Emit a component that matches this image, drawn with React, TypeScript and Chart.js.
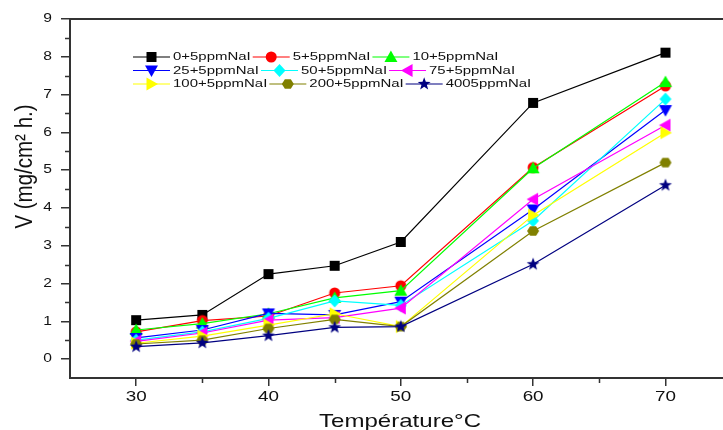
import React, { useEffect, useRef } from 'react';
import { Chart, registerables } from 'chart.js';

Chart.register(...registerables);

const temperatures = [30, 35, 40, 45, 50, 60, 70];
const seriesNames = [
  '0+5ppmNaI', '5+5ppmNaI', '10+5ppmNaI',
  '25+5ppmNaI', '50+5ppmNaI', '75+5ppmNaI',
  '100+5ppmNaI', '200+5ppmNaI', '4005ppmNaI',
];
const s0 = [1.03, 1.17, 2.25, 2.47, 3.1, 6.78, 8.11];
const s5 = [0.72, 1.02, 1.14, 1.75, 1.94, 5.07, 7.23];
const s10 = [0.77, 0.94, 1.2, 1.62, 1.81, 5.05, 7.33];
const s25 = [0.56, 0.77, 1.21, 1.17, 1.52, 3.96, 6.59];
const s50 = [0.5, 0.72, 1.08, 1.54, 1.42, 3.66, 6.88];
const s75 = [0.47, 0.69, 1.03, 1.1, 1.35, 4.23, 6.19];
const s100 = [0.42, 0.61, 0.9, 1.2, 0.86, 3.81, 5.99];
const s200 = [0.4, 0.5, 0.81, 1.05, 0.86, 3.39, 5.2];
const s4005 = [0.33, 0.43, 0.62, 0.84, 0.86, 2.51, 4.6];
const seriesValues = [s0, s5, s10, s25, s50, s75, s100, s200, s4005];

const colors = ['#000000', '#ff0000', '#00ff00', '#0000ff', '#00ffff', '#ff00ff', '#ffff00', '#808000', '#000080'];
const markers = ['square', 'circle', 'triUp', 'triDown', 'diamond', 'triLeft', 'triRight', 'hexagon', 'star'];

const xTickValues = [30, 40, 50, 60, 70];
const xMinorValues = [35, 45, 55, 65];
const yTickValues = [0, 1, 2, 3, 4, 5, 6, 7, 8, 9];
const yMinorValues = [0.5, 1.5, 2.5, 3.5, 4.5, 5.5, 6.5, 7.5, 8.5];
const xTitle = 'Température°C';
const yTitle = 'V (mg/cm² h.)';

const AXIS_COLOR = '#333333';
const TEXT_COLOR = '#111111';
const FONT = "'Liberation Sans', Arial, sans-serif";
const SX = 1.3;

function drawMarker(ctx: CanvasRenderingContext2D, shape: string, cx: number, cy: number, color: string) {
  ctx.save();
  ctx.fillStyle = color;
  ctx.beginPath();
  const poly = (pts: number[][]) => {
    ctx.moveTo(cx + pts[0][0], cy + pts[0][1]);
    for (let i = 1; i < pts.length; i++) ctx.lineTo(cx + pts[i][0], cy + pts[i][1]);
    ctx.closePath();
  };
  switch (shape) {
    case 'square':
      ctx.rect(cx - 5, cy - 5, 10, 10);
      break;
    case 'circle':
      ctx.arc(cx, cy, 5.5, 0, Math.PI * 2);
      break;
    case 'triUp':
      poly([[0, -6.5], [6.5, 5], [-6.5, 5]]);
      break;
    case 'triDown':
      poly([[0, 6.5], [6.5, -5], [-6.5, -5]]);
      break;
    case 'triLeft':
      poly([[-6.5, 0], [5, -6.5], [5, 6.5]]);
      break;
    case 'triRight':
      poly([[6.5, 0], [-5, -6.5], [-5, 6.5]]);
      break;
    case 'diamond':
      poly([[0, -6.5], [6, 0], [0, 6.5], [-6, 0]]);
      break;
    case 'hexagon': {
      const pts: number[][] = [];
      for (let k = 0; k < 6; k++) {
        const a = (k * Math.PI) / 3;
        pts.push([6 * Math.cos(a), 5.5 * Math.sin(a)]);
      }
      poly(pts);
      break;
    }
    case 'star': {
      const pts: number[][] = [];
      for (let k = 0; k < 10; k++) {
        const r = k % 2 === 0 ? 6.8 : 2.8;
        const a = -Math.PI / 2 + (k * Math.PI) / 5;
        pts.push([r * Math.cos(a), r * Math.sin(a)]);
      }
      poly(pts);
      break;
    }
  }
  ctx.fill();
  ctx.restore();
}

function makeMarkerCanvas(shape: string, color: string) {
  const c = document.createElement('canvas');
  c.width = 16;
  c.height = 16;
  const ctx = c.getContext('2d')!;
  drawMarker(ctx, shape, 8, 8, color);
  return c;
}

function stretchedText(
  ctx: CanvasRenderingContext2D, text: string, x: number, y: number,
  size: number, align: CanvasTextAlign, baseline: CanvasTextBaseline, sx: number,
) {
  ctx.save();
  ctx.font = `${size}px ${FONT}`;
  ctx.fillStyle = TEXT_COLOR;
  ctx.textAlign = align;
  ctx.textBaseline = baseline;
  ctx.translate(x, y);
  ctx.scale(sx, 1);
  ctx.fillText(text, 0, 0);
  const w = ctx.measureText(text).width * sx;
  ctx.restore();
  return w;
}

const decorPlugin = {
  id: 'decor',
  afterDraw(chart: any) {
    const ctx: CanvasRenderingContext2D = chart.ctx;
    const xs = chart.scales.x;
    const ys = chart.scales.y;
    const area = chart.chartArea;
    ctx.save();
    // top frame line
    ctx.strokeStyle = AXIS_COLOR;
    ctx.lineWidth = 2;
    ctx.beginPath();
    ctx.moveTo(area.left - 1, area.top);
    ctx.lineTo(chart.width, area.top);
    ctx.stroke();
    // minor ticks
    ctx.lineWidth = 1.5;
    ctx.beginPath();
    yMinorValues.forEach((v) => {
      const p = Math.round(ys.getPixelForValue(v)) + 0.5;
      ctx.moveTo(area.left - 5, p);
      ctx.lineTo(area.left, p);
    });
    xMinorValues.forEach((v) => {
      const p = Math.round(xs.getPixelForValue(v)) + 0.5;
      ctx.moveTo(p, area.bottom);
      ctx.lineTo(p, area.bottom + 5);
    });
    ctx.stroke();
    ctx.restore();

    // tick labels
    yTickValues.forEach((v) => {
      stretchedText(ctx, String(v), area.left - 18, ys.getPixelForValue(v), 12, 'right', 'middle', SX);
    });
    xTickValues.forEach((v) => {
      stretchedText(ctx, String(v), xs.getPixelForValue(v), area.bottom + 19, 14.5, 'center', 'middle', SX);
    });

    // axis titles
    stretchedText(ctx, xTitle, 400, 427, 18.5, 'center', 'alphabetic', SX);
    ctx.save();
    ctx.font = `20.5px ${FONT}`;
    ctx.fillStyle = TEXT_COLOR;
    ctx.textAlign = 'center';
    ctx.textBaseline = 'middle';
    ctx.translate(25, 166.5);
    ctx.rotate(-Math.PI / 2);
    ctx.scale(1, 1.2);
    ctx.fillText(yTitle, 0, 0);
    ctx.restore();

    // legend
    const rows = [[0, 1, 2], [3, 4, 5], [6, 7, 8]];
    const rowY = [57, 70.5, 84];
    rows.forEach((row, r) => {
      let x = 133;
      const y = rowY[r];
      row.forEach((idx) => {
        ctx.save();
        ctx.strokeStyle = colors[idx];
        ctx.lineWidth = 1.2;
        ctx.beginPath();
        ctx.moveTo(x, y);
        ctx.lineTo(x + 37, y);
        ctx.stroke();
        ctx.restore();
        drawMarker(ctx, markers[idx], x + 18.5, y, colors[idx]);
        x += 40;
        const w = stretchedText(ctx, seriesNames[idx], x, y, 11.5, 'left', 'middle', SX);
        x += w + 2;
      });
    });
  },
};

export default function App() {
  const canvasRef = useRef<HTMLCanvasElement | null>(null);

  useEffect(() => {
    const canvas = canvasRef.current;
    if (!canvas) return;
    const datasets = seriesValues.map((vals, i) => ({
      label: seriesNames[i],
      data: temperatures.map((t, j) => ({ x: t, y: vals[j] })),
      borderColor: colors[i],
      backgroundColor: colors[i],
      borderWidth: 1.2,
      pointStyle: makeMarkerCanvas(markers[i], colors[i]) as any,
      pointRadius: 6,
      pointHoverRadius: 6,
      tension: 0,
      order: -i,
    }));

    const chart = new Chart(canvas, {
      type: 'line',
      data: { datasets },
      options: {
        animation: false,
        responsive: false,
        devicePixelRatio: 1,
        layout: { autoPadding: false, padding: { top: 19, right: 0, left: 0, bottom: 0 } },
        plugins: { legend: { display: false }, tooltip: { enabled: false } },
        events: [],
        scales: {
          x: {
            type: 'linear',
            min: 25,
            max: 74.35,
            afterBuildTicks: (s: any) => { s.ticks = xTickValues.map((v) => ({ value: v })); },
            afterFit: (s: any) => { s.height = 52; s.paddingRight = 0; s.paddingLeft = 0; },
            ticks: { display: false },
            grid: { display: true, drawOnChartArea: false, drawTicks: true, tickLength: 8, color: AXIS_COLOR, lineWidth: 1.5 },
            border: { display: true, color: AXIS_COLOR, width: 2 },
          },
          y: {
            type: 'linear',
            min: -0.5,
            max: 9,
            afterBuildTicks: (s: any) => { s.ticks = yTickValues.map((v) => ({ value: v })); },
            afterFit: (s: any) => { s.width = 70; },
            ticks: { display: false },
            grid: { display: true, drawOnChartArea: false, drawTicks: true, tickLength: 9, color: AXIS_COLOR, lineWidth: 1.5 },
            border: { display: true, color: AXIS_COLOR, width: 2 },
          },
        },
      },
      plugins: [decorPlugin],
    });
    return () => chart.destroy();
  }, []);

  return (
    <div style={{ position: 'fixed', left: 0, top: 0, width: 723, height: 430, background: '#ffffff' }}>
      <canvas ref={canvasRef} width={723} height={430} style={{ width: 723, height: 430, display: 'block' }} />
    </div>
  );
}
